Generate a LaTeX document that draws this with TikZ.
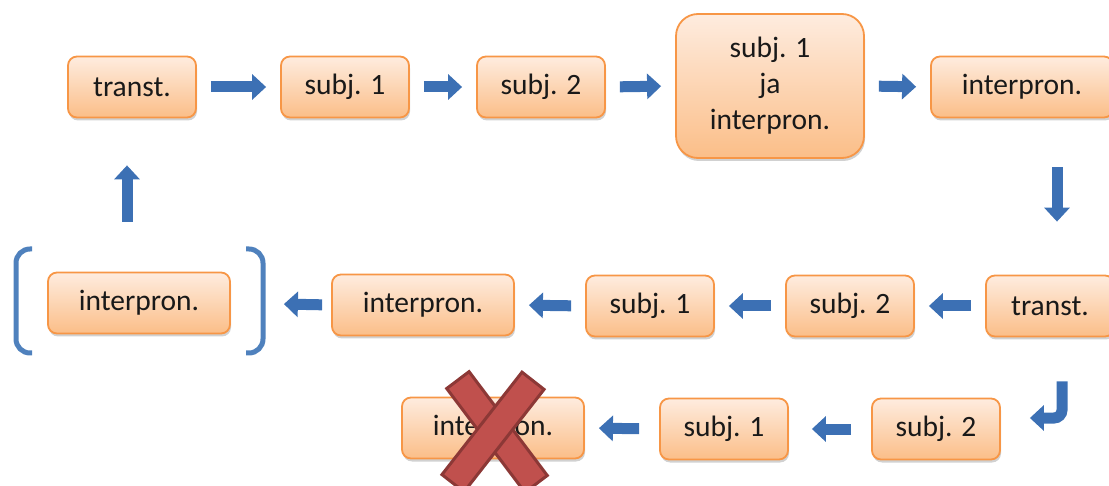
\documentclass[tikz,border=0pt]{standalone}
\usepackage{fontspec}
\setmainfont{Carlito}
\usepackage{xcolor}
\usepackage{tikz}
\usetikzlibrary{arrows.meta,calc,shadows}

\definecolor{boxtop}{HTML}{FEECDF}
\definecolor{boxbot}{HTML}{FBBE88}
\definecolor{boxline}{HTML}{F79646}
\definecolor{flowblue}{HTML}{3C70B4}
\definecolor{bracketblue}{HTML}{4F81BD}
\definecolor{crossfill}{HTML}{C0504D}
\definecolor{crossline}{HTML}{8C3836}

\tikzset{
  box/.style={draw=boxline, line width=1.8pt, rounded corners=9pt,
    top color=boxtop, bottom color=boxbot,
    minimum width=128pt, minimum height=61pt, inner sep=2pt,
    font=\fontsize{29.5}{36}\selectfont, text=black!90,
    drop shadow={shadow xshift=1pt, shadow yshift=-3pt, opacity=0.18, fill=black}},
  widebox/.style={box, minimum width=182pt},
  flow/.style={draw=flowblue, line width=11pt,
    -{Triangle[width=25pt,length=14pt]}, shorten <=14pt, shorten >=14pt},
  bracket/.style={draw=bracketblue, line width=5pt, rounded corners=14pt},
  crossbar/.style={draw=crossline, fill=crossfill, line width=3pt,
    minimum width=130pt, minimum height=28pt, inner sep=0pt}
}

\begin{document}
\begin{tikzpicture}[x=1pt,y=1pt]
\useasboundingbox (0,0) rectangle (1109,-486);
% Top row
\node[box] (tr1) at (132,-87) {transt.};
\node[box] (sa1) at (345,-87) {subj. 1};
\node[box] (sb1) at (541,-87) {subj. 2};
\node[box, minimum width=188pt, minimum height=144pt, rounded corners=22pt,
  align=center] (both) at (770,-86) {subj. 1\\ja\\interpron.};
\node[widebox] (ia1) at (1022,-87) {interpron.};
% Middle row
\node[box] (tr2) at (1050,-306) {transt.};
\node[box] (sb2) at (850,-306) {subj. 2};
\node[box] (sa2) at (650,-306) {subj. 1};
\node[widebox] (ip2) at (423,-305) {interpron.};
\node[widebox] (ip3) at (139,-303) {interpron.};
% Bottom row
\node[box] (sb3) at (936,-429) {subj. 2};
\node[box] (sa3) at (724,-429) {subj. 1};
\node[widebox] (ip4) at (493,-428) {interpron.};
% Arrows
\draw[flow] (tr1.east) -- (sa1.west);
\draw[flow] (sa1.east) -- (sb1.west);
\draw[flow] (sb1.east) -- (both.west);
\draw[flow] (both.east) -- (ia1.west);
\draw[flow, shorten <=0pt, shorten >=0pt]
  ([xshift=35pt,yshift=-49pt]ia1.south) -- ([xshift=7pt,yshift=53pt]tr2.north);
\draw[flow] (tr2.west) -- (sb2.east);
\draw[flow] (sb2.west) -- (sa2.east);
\draw[flow] (sa2.west) -- (ip2.east);
\draw[flow, shorten <=9pt, shorten >=53pt] (ip2.west) -- (ip3.east);
\draw[flow, shorten <=0pt, shorten >=0pt]
  ([xshift=-12pt,yshift=50pt]ip3.north) -- ([xshift=-5pt,yshift=-47pt]tr1.south);
\draw[flow, rounded corners=8pt, shorten <=0pt, shorten >=0pt]
  ([xshift=12pt,yshift=-44pt]tr2.south) |- ([xshift=29pt,yshift=11pt]sb3.east);
\draw[flow, shorten <=20pt, shorten >=23pt] (sb3.west) -- (sa3.east);
\draw[flow, shorten <=20pt, shorten >=14pt] (sa3.west) -- (ip4.east);
% Brackets
\draw[bracket] (32,-249) -- (16,-249) -- (16,-353) -- (32,-353);
\draw[bracket] (246,-249) -- (263,-249) -- (263,-353) -- (246,-353);
% Cross
\node[crossbar, rotate=-53] (xa) at (497,-432) {};
\node[crossbar, rotate=52] (xb) at (493,-432) {};
\end{tikzpicture}
\end{document}
